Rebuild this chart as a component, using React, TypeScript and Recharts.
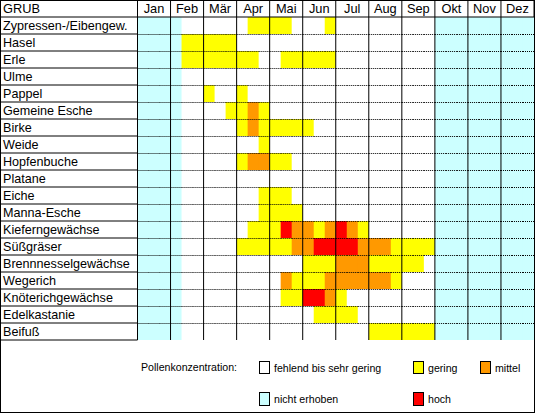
import React from "react";
import { BarChart, Bar, XAxis, YAxis, ReferenceLine } from "recharts";

const plants = [
  "Zypressen-/Eibengew.",
  "Hasel",
  "Erle",
  "Ulme",
  "Pappel",
  "Gemeine Esche",
  "Birke",
  "Weide",
  "Hopfenbuche",
  "Platane",
  "Eiche",
  "Manna-Esche",
  "Kieferngewächse",
  "Süßgräser",
  "Brennnesselgewächse",
  "Wegerich",
  "Knöterichgewächse",
  "Edelkastanie",
  "Beifuß",
];

const months = ["Jan", "Feb", "Mär", "Apr", "Mai", "Jun", "Jul", "Aug", "Sep", "Okt", "Nov", "Dez"];

// three decades per month: 0 fehlend bis sehr gering, 1 gering, 2 mittel, 3 hoch
const levels = [
  "000 000 000 011 110 001 000 000 000 000 000 000",
  "000 011 111 000 000 000 000 000 000 000 000 000",
  "000 011 111 110 011 111 000 000 000 000 000 000",
  "000 000 000 000 000 000 000 000 000 000 000 000",
  "000 000 100 100 000 000 000 000 000 000 000 000",
  "000 000 001 121 000 000 000 000 000 000 000 000",
  "000 000 000 121 111 100 000 000 000 000 000 000",
  "000 000 000 001 000 000 000 000 000 000 000 000",
  "000 000 000 122 110 000 000 000 000 000 000 000",
  "000 000 000 000 000 000 000 000 000 000 000 000",
  "000 000 000 001 110 000 000 000 000 000 000 000",
  "000 000 000 001 111 000 000 000 000 000 000 000",
  "000 000 000 011 132 212 321 000 000 000 000 000",
  "000 000 000 111 112 233 332 221 111 000 000 000",
  "000 000 000 000 000 111 222 111 110 000 000 000",
  "000 000 000 000 021 112 222 221 000 000 000 000",
  "000 000 000 000 011 332 100 000 000 000 000 000",
  "000 000 000 000 000 011 110 000 000 000 000 000",
  "000 000 000 000 000 000 000 111 111 000 000 000",
];

// decades without measurements (nicht erhoben)
const notSampled = [0, 1, 2, 3, 27, 28, 29, 30, 31, 32, 33, 34, 35];

const levelColors = ["#FFFFFF", "#FFFF00", "#FF9900", "#FF0000"];
const notSampledColor = "#CCFFFF";

const FONT = "'Liberation Sans', Arial, sans-serif";
const HEADER_H = 17;
const ROW_H = 17;
const LABEL_W = 137.5;

const decades = Array.from({ length: months.length * 3 }, (_, i) => i);

const rows = plants.map((name, r) => {
  const lv = levels[r].replace(/ /g, "").split("").map(Number);
  const row: any = { name, lv, r };
  decades.forEach((d) => (row[`d${d}`] = 1));
  return row;
});

const boundaries = months.map((_, i) => i * 3).concat([months.length * 3]);
const centers = months.map((_, i) => i * 3 + 1.5);
const headerTicks = [...boundaries, ...centers].sort((a, b) => a - b);

const HeaderTick = (props: any) => {
  const { x, y, payload } = props;
  const v = payload.value;
  if (v % 3 === 0) {
    return <line x1={x} x2={x} y1={y} y2={y - HEADER_H} stroke="#000" />;
  }
  return (
    <text x={x} y={y - 4} textAnchor="middle" fontSize={12.8} fontFamily={FONT} fill="#000">
      {months[Math.floor(v / 3)]}
    </text>
  );
};

const RowTick = (props: any) => {
  const { x, y, payload, index } = props;
  return (
    <g>
      {index === 0 && <line x1={0} x2={x} y1={y - ROW_H / 2} y2={y - ROW_H / 2} stroke="#000" />}
      <line x1={0} x2={x} y1={y + ROW_H / 2} y2={y + ROW_H / 2} stroke="#000" />
      <text x={3} y={y} dy="0.36em" fontSize={12.6} fontFamily={FONT} fill="#000">
        {payload.value}
      </text>
    </g>
  );
};

const makeCell = (d: number) => (p: any) => {
  const { x, y, width, height, payload } = p;
  const lv = payload.lv[d];
  const fill = lv > 0 ? levelColors[lv] : notSampled.includes(d) ? notSampledColor : levelColors[0];
  return (
    <g>
      <rect x={x} y={y} width={width + 0.5} height={height} fill={fill} />
      {payload.r > 0 && (
        <line x1={x} x2={x + width} y1={y + 0.5} y2={y + 0.5} stroke="#000" strokeDasharray="1 1" />
      )}
    </g>
  );
};

const LegendBox = ({ left, top, h, color, label }: any) => (
  <>
    <div
      style={{
        position: "absolute",
        left,
        top,
        width: 11,
        height: h,
        boxSizing: "border-box",
        border: "1px solid #000",
        background: color,
      }}
    />
    <div style={{ position: "absolute", left: left + 15, top: top + h / 2 - 7, lineHeight: "14px" }}>{label}</div>
  </>
);

export default function App() {
  return (
    <div style={{ position: "absolute", left: 0, top: 0, width: 535, height: 413, background: "#fff", overflow: "hidden" }}>
      <BarChart
        width={535}
        height={413}
        data={rows}
        layout="vertical"
        margin={{ top: 0, right: 1, bottom: 73, left: 0 }}
        barCategoryGap={0}
        barGap={0}
      >
        <XAxis
          xAxisId="top"
          orientation="top"
          type="number"
          domain={[0, 36]}
          ticks={headerTicks}
          interval={0}
          height={HEADER_H}
          tickSize={0}
          tickMargin={0}
          tickLine={false}
          axisLine={{ stroke: "#000" }}
          tick={(p: any) => <HeaderTick {...p} />}
        />
        <XAxis
          xAxisId="bottom"
          orientation="bottom"
          type="number"
          domain={[0, 36]}
          height={0}
          tick={false}
          tickLine={false}
          axisLine={{ stroke: "#000" }}
        />
        <YAxis
          yAxisId="rows"
          type="category"
          dataKey="name"
          width={LABEL_W}
          interval={0}
          tickSize={0}
          tickMargin={0}
          tickLine={false}
          axisLine={{ stroke: "#000" }}
          tick={(p: any) => <RowTick {...p} />}
        />
        {decades.map((d) => (
          <Bar
            key={d}
            dataKey={`d${d}`}
            stackId="cal"
            xAxisId="top"
            yAxisId="rows"
            isAnimationActive={false}
            shape={makeCell(d)}
          />
        ))}
        {boundaries.slice(1, -1).map((b) => (
          <ReferenceLine key={b} x={b} xAxisId="top" yAxisId="rows" stroke="#000" strokeWidth={1} />
        ))}
      </BarChart>
      <div style={{ position: "absolute", left: 3, top: 1, fontSize: 12.8, fontFamily: FONT, lineHeight: "16px" }}>GRUB</div>
      <div style={{ position: "absolute", left: 0, top: 0, width: 535, height: 413, fontSize: 10.6, fontFamily: FONT, color: "#000" }}>
        <div style={{ position: "absolute", left: 141, top: 360, lineHeight: "14px" }}>Pollenkonzentration:</div>
        <LegendBox left={259} top={361} h={13} color={levelColors[0]} label="fehlend bis sehr gering" />
        <LegendBox left={413} top={361} h={13} color={levelColors[1]} label="gering" />
        <LegendBox left={480} top={361} h={13} color={levelColors[2]} label="mittel" />
        <LegendBox left={259} top={392} h={14} color={notSampledColor} label="nicht erhoben" />
        <LegendBox left={413} top={392} h={14} color={levelColors[3]} label="hoch" />
      </div>
      <div
        style={{
          position: "absolute",
          left: 0,
          top: 0,
          width: 535,
          height: 413,
          boxSizing: "border-box",
          border: "1px solid #000",
          pointerEvents: "none",
        }}
      />
    </div>
  );
}
